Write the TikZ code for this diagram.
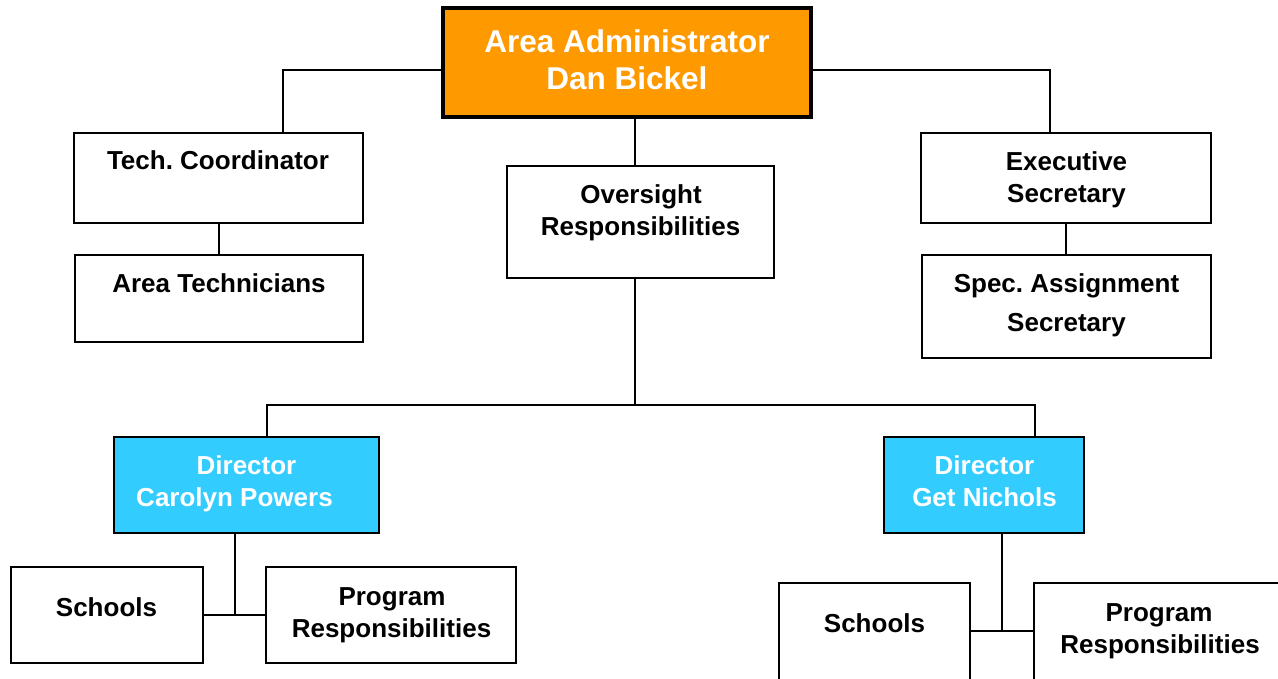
\documentclass[tikz,border=0pt]{standalone}
\usepackage{fontspec}
\setmainfont{Liberation Sans}
\frenchspacing
\definecolor{orng}{HTML}{FF9900}
\definecolor{cyn}{HTML}{33CCFF}
\begin{document}
\begin{tikzpicture}[x=1pt,y=-1pt,
 box/.style={draw=black, line width=2pt, fill=white, inner sep=0pt, outer sep=0pt},
 topbox/.style={box, line width=4pt, fill=orng},
 dirbox/.style={box, fill=cyn},
 lbl/.style={inner sep=0pt, anchor=base, font=\fontsize{26}{30}\selectfont\bfseries, text=black},
 wlbl/.style={lbl, text=white},
 biglbl/.style={lbl, text=white, font=\fontsize{31.5}{36}\selectfont\bfseries},
 conn/.style={draw=black, line width=2pt}]
\useasboundingbox[fill=white] (0,0) rectangle (1278,678);
\clip (0,0) rectangle (1278,678);
% boxes
\node[topbox, minimum width=368pt, minimum height=109pt] (top) at (627,62.5) {};
\node[box, minimum width=289pt, minimum height=90pt] (tc) at (218.5,178) {};
\node[box, minimum width=288pt, minimum height=87pt] (at) at (219,298.5) {};
\node[box, minimum width=267pt, minimum height=112pt] (ov) at (640.5,222) {};
\node[box, minimum width=290pt, minimum height=90pt] (es) at (1066,178) {};
\node[box, minimum width=289pt, minimum height=103pt] (sa) at (1066.5,306.5) {};
\node[dirbox, minimum width=265pt, minimum height=96pt] (d1) at (246.5,485) {};
\node[dirbox, minimum width=200pt, minimum height=96pt] (d2) at (984,485) {};
\node[box, minimum width=192pt, minimum height=96pt] (s1) at (107,615) {};
\node[box, minimum width=250pt, minimum height=96pt] (p1) at (391,615) {};
\node[box, minimum width=191pt, minimum height=107pt] (s2) at (874.5,636.5) {};
\node[box, minimum width=256pt, minimum height=107pt] (p2) at (1162,636.5) {};
% junction coordinates
\coordinate (jl) at (283,70);
\coordinate (jr) at (1050,70);
\coordinate (jo) at (635,0);
\coordinate (bus) at (635,405);
\coordinate (bl) at (267,405);
\coordinate (br) at (1035,405);
\coordinate (m1) at (235,615);
\coordinate (m2) at (1002,631);
% connectors
\draw[conn] (top.west |- jl) -- (jl) -- (jl |- tc.north);
\draw[conn] (top.east |- jr) -- (jr) -- (jr |- es.north);
\draw[conn] (top.south -| jo) -- (jo |- ov.north);
\draw[conn] (tc.south) -- (tc.south |- at.north);
\draw[conn] (es.south) -- (es.south |- sa.north);
\draw[conn] (ov.south -| bus) -- (bus);
\draw[conn] (bl |- d1.north) -- (bl) -- (br) -- (br |- d2.north);
\draw[conn] (d1.south -| m1) -- (m1);
\draw[conn] (s1.east |- m1) -- (p1.west |- m1);
\draw[conn] (d2.south -| m2) -- (m2);
\draw[conn] (s2.east |- m2) -- (p2.west |- m2);
% labels
\node[biglbl] (topa) at (627,52) {Area Administrator};
\node[biglbl] (topb) at (627,89) {Dan Bickel};
\node[lbl] (tct) at (218,169) {Tech. Coordinator};
\node[lbl] (att) at (219,292) {Area Technicians};
\node[lbl] (ova) at (641,203) {Oversight};
\node[lbl] (ovb) at (640.5,235) {Responsibilities};
\node[lbl] (esa) at (1066.5,170) {Executive};
\node[lbl] (esb) at (1066.5,202) {Secretary};
\node[lbl] (saa) at (1066.5,292) {Spec. Assignment};
\node[lbl] (sab) at (1066.5,331) {Secretary};
\node[wlbl] (d1a) at (246.5,474) {Director};
\node[wlbl] (d1b) at (234.5,506) {Carolyn Powers};
\node[wlbl] (d2a) at (984.5,474) {Director};
\node[wlbl] (d2b) at (984.5,506) {Get Nichols};
\node[lbl] (s1t) at (106.5,616) {Schools};
\node[lbl] (p1a) at (392,605) {Program};
\node[lbl] (p1b) at (391.5,637) {Responsibilities};
\node[lbl] (s2t) at (874.5,632) {Schools};
\node[lbl] (p2a) at (1159,621) {Program};
\node[lbl] (p2b) at (1160,653) {Responsibilities};
\end{tikzpicture}
\end{document}
